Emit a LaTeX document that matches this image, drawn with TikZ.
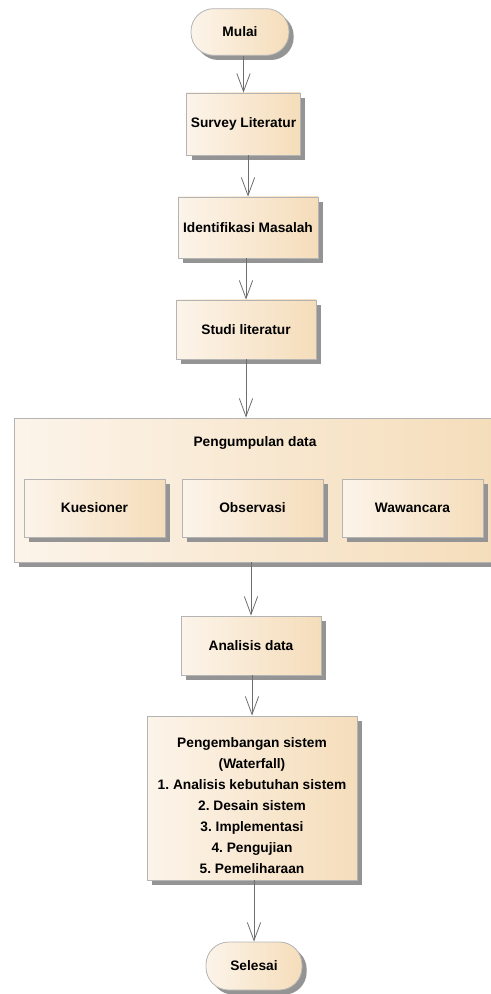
\documentclass[tikz,border=0pt]{standalone}
\usepackage{fontspec}
\setmainfont{Liberation Sans}
\usetikzlibrary{arrows.meta,shadows}
\frenchspacing

\definecolor{boxleft}{HTML}{FCF4EA}
\definecolor{boxright}{HTML}{F5DDBA}
\definecolor{boxline}{HTML}{B4B4B4}
\definecolor{arrline}{HTML}{6E6E6E}

\tikzset{
  proc/.style={rectangle, draw=boxline, line width=0.6pt, left color=boxleft, right color=boxright,
    drop shadow={shadow xshift=3.5pt, shadow yshift=-3.5pt, fill=black!42, opacity=1},
    font=\fontsize{10.3}{15.75}\selectfont\bfseries, align=center, inner sep=0pt},
  term/.style={proc, rounded corners=17pt},
  arr/.style={draw=arrline, line width=0.6pt, -{Straight Barb[length=13.5pt,width=10pt,line width=0.6pt]}}
}

\begin{document}
\begin{tikzpicture}[x=0.75pt,y=-0.75pt]
\useasboundingbox (0,0) rectangle (491,994);
% main column
\node[term, minimum width=73.5pt, minimum height=35pt] (mulai) at (240,32) {Mulai};
\node[proc, minimum width=85pt, minimum height=46.5pt] (survey) at (243.5,124) {Survey Literatur};
\node[proc, minimum width=105pt, minimum height=45.75pt] (ident) at (248,227.5) {Identifikasi Masalah};
\node[proc, minimum width=105pt, minimum height=44.25pt] (studi) at (246,329.5) {Studi literatur};
% the data collection block and its three parts
\node[proc, minimum width=363pt, minimum height=108pt] (kumpul) at (256,490) {};
\node[font=\fontsize{10.3}{12}\selectfont\bfseries] (kumpultitle) at (255,443) {Pengumpulan data};
\node[proc, minimum width=105.75pt, minimum height=43.5pt] (kues) at (94.5,508) {Kuesioner};
\node[proc, minimum width=105.75pt, minimum height=43.5pt] (obs) at (252.5,508) {Observasi};
\node[proc, minimum width=105.75pt, minimum height=43.5pt] (waw) at (412.5,508) {Wawancara};
\node[proc, minimum width=105pt, minimum height=44.25pt] (analisis) at (251,645.5) {Analisis data};
\node[proc, minimum width=157.5pt, minimum height=123pt] (kembang) at (252,798) {\rule{0pt}{19pt}Pengembangan sistem\\(Waterfall)\\1. Analisis kebutuhan sistem\\2. Desain sistem\\3. Implementasi\\4. Pengujian\\5. Pemeliharaan};
\node[term, minimum width=72pt, minimum height=36pt] (selesai) at (254,966) {Selesai};
% arrows
\draw[arr] (mulai.south -| survey.north) -- (survey.north);
\draw[arr] (survey.south -| ident.north) -- (ident.north);
\draw[arr] (ident.south -| studi.north) -- (studi.north);
\draw[arr] (studi.south) -- (studi.south |- kumpul.north);
\draw[arr] (kumpul.south -| analisis.north) -- (analisis.north);
\draw[arr] (analisis.south -| kembang.north) -- (kembang.north);
\draw[arr] (kembang.south -| selesai.north) -- (selesai.north);
\end{tikzpicture}
\end{document}
